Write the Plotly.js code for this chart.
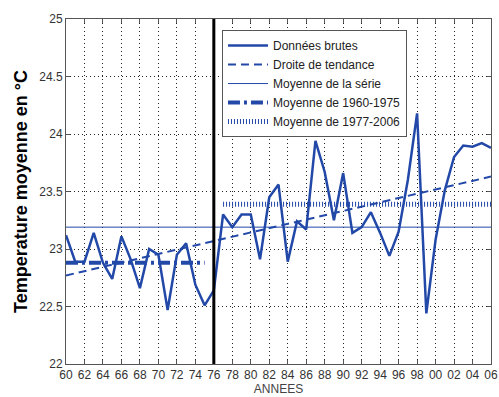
<!DOCTYPE html>
<html>
<head>
<meta charset="utf-8">
<script src="https://cdn.plot.ly/plotly-3.0.1.min.js"></script>
<style>html,body{margin:0;padding:0;background:#fff;}#chart{width:499px;height:397px;}</style>
</head>
<body>
<div id="chart"></div>
<script>
// Data
const years = [1960,1961,1962,1963,1964,1965,1966,1967,1968,1969,1970,1971,1972,1973,1974,1975,1976,
  1977,1978,1979,1980,1981,1982,1983,1984,1985,1986,1987,1988,1989,1990,1991,1992,1993,1994,1995,1996,
  1997,1998,1999,2000,2001,2002,2003,2004,2005,2006];
const temps = [23.12,22.89,22.89,23.14,22.88,22.74,23.11,22.91,22.66,23.00,22.95,22.47,22.95,23.05,22.69,22.51,22.64,
  23.30,23.19,23.30,23.30,22.91,23.45,23.56,22.89,23.24,23.17,23.94,23.67,23.25,23.66,23.14,23.19,23.32,23.14,22.94,23.15,
  23.60,24.18,22.44,23.08,23.51,23.80,23.90,23.89,23.92,23.88];
const trendYears = [1960, 2006];
const trendValues = [22.77, 23.63];
const seriesMean = 23.19;
const mean1Years = [1960, 1975];
const mean1 = 22.88;
const mean2Years = [1977, 2006];
const mean2 = 23.39;
const breakYear = 1976;
const xTickVals = [1960,1962,1964,1966,1968,1970,1972,1974,1976,1978,1980,1982,1984,1986,1988,1990,1992,1994,1996,1998,2000,2002,2004,2006];
const xTickText = ["60","62","64","66","68","70","72","74","76","78","80","82","84","86","88","90","92","94","96","98","00","02","04","06"];
const yTickVals = [22,22.5,23,23.5,24,24.5,25];
const yTickText = ["22","22.5","23","23.5","24","24.5","25"];
const legendNames = ["Données brutes","Droite de tendance","Moyenne de la série","Moyenne de 1960-1975","Moyenne de 1977-2006"];

const blue = '#2248a8';
const traces = [
  {x: years, y: temps, type: 'scatter', mode: 'lines', name: legendNames[0],
   line: {color: blue, width: 2.5}},
  {x: trendYears, y: trendValues, type: 'scatter', mode: 'lines', name: legendNames[1],
   line: {color: blue, width: 2, dash: '8px,5px'}},
  {x: [years[0], years[years.length-1]], y: [seriesMean, seriesMean], type: 'scatter', mode: 'lines', name: legendNames[2],
   line: {color: blue, width: 1}},
  {x: mean1Years, y: [mean1, mean1], type: 'scatter', mode: 'lines', name: legendNames[3],
   line: {color: blue, width: 4, dash: '12px,4px,3px,4px'}},
  {x: mean2Years, y: [mean2, mean2], type: 'scatter', mode: 'lines', name: legendNames[4],
   line: {color: blue, width: 5, dash: '1px,2px'}}
];

const layout = {
  width: 499, height: 397,
  margin: {l: 66, r: 8, t: 19, b: 33},
  paper_bgcolor: '#fff', plot_bgcolor: '#fff',
  font: {family: 'Liberation Sans, Arial, sans-serif', size: 12, color: '#333'},
  showlegend: true,
  legend: {x: 0.367, y: 0.968, xanchor: 'left', yanchor: 'top',
    bgcolor: '#fff', bordercolor: '#555', borderwidth: 1,
    font: {size: 12, color: '#222'}, itemwidth: 40, tracegroupgap: 0},
  xaxis: {range: [1960, 2006], tickvals: xTickVals, ticktext: xTickText,
    showgrid: true, gridcolor: '#222', griddash: '1px,3px', gridwidth: 1,
    showline: true, linecolor: '#555', linewidth: 1, mirror: 'ticks',
    ticks: 'inside', ticklen: 4, tickcolor: '#555', zeroline: false,
    tickfont: {size: 12, color: '#333'},
    title: {text: 'ANNEES', font: {size: 12, color: '#444'}, standoff: 2}},
  yaxis: {range: [22, 25], tickvals: yTickVals, ticktext: yTickText,
    showgrid: true, gridcolor: '#222', griddash: '1px,3px', gridwidth: 1,
    showline: true, linecolor: '#555', linewidth: 1, mirror: 'ticks',
    ticks: 'inside', ticklen: 4, tickcolor: '#555', zeroline: false,
    tickfont: {size: 12, color: '#333'},
    title: {text: 'Temperature moyenne en °C', font: {size: 18, color: '#000', weight: 'bold'}, standoff: 6}},
  shapes: [{type: 'line', xref: 'x', yref: 'paper', x0: breakYear, x1: breakYear, y0: 0, y1: 1,
    line: {color: '#000', width: 3}}]
};

Plotly.newPlot('chart', traces, layout, {displayModeBar: false, staticPlot: true});
</script>
</body>
</html>
